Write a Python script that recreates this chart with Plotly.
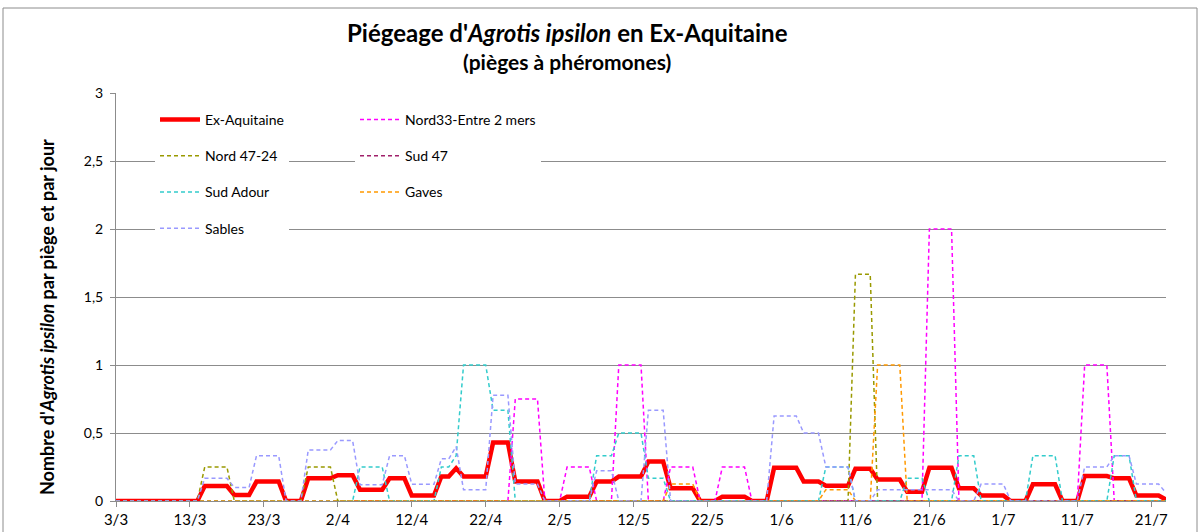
import pandas as pd
import plotly.graph_objects as go

# daily dates, 3/3 -> 23/7
dates = pd.date_range("2017-03-03", "2017-07-23", freq="D")

ex_aquitaine = [
    0, 0, 0, 0, 0, 0, 0, 0, 0, 0,
    0, 0, 0.11, 0.11, 0.11, 0.11, 0.044, 0.044, 0.044, 0.143,
    0.143, 0.143, 0.143, 0, 0, 0, 0.167, 0.167, 0.167, 0.167,
    0.19, 0.19, 0.19, 0.083, 0.083, 0.083, 0.083, 0.167, 0.167, 0.167,
    0.04, 0.04, 0.04, 0.04, 0.18, 0.18, 0.24, 0.18, 0.18, 0.18,
    0.18, 0.43, 0.43, 0.43, 0.143, 0.143, 0.143, 0.143, 0, 0,
    0, 0.032, 0.032, 0.032, 0.032, 0.143, 0.143, 0.143, 0.18, 0.18,
    0.18, 0.18, 0.29, 0.29, 0.29, 0.094, 0.094, 0.094, 0.094, 0,
    0, 0, 0.032, 0.032, 0.032, 0.032, 0, 0, 0, 0.245,
    0.245, 0.245, 0.245, 0.143, 0.143, 0.143, 0.113, 0.113, 0.113, 0.113,
    0.238, 0.238, 0.238, 0.158, 0.158, 0.158, 0.158, 0.068, 0.068, 0.068,
    0.245, 0.245, 0.245, 0.245, 0.093, 0.093, 0.093, 0.04, 0.04, 0.04,
    0.04, 0, 0, 0, 0.123, 0.123, 0.123, 0.123, 0, 0,
    0, 0.184, 0.184, 0.184, 0.184, 0.167, 0.167, 0.167, 0.04, 0.04,
    0.04, 0.04, 0.01,
]

nord33 = [
    0, 0, 0, 0, 0, 0, 0, 0, 0, 0,
    0, 0, 0, 0, 0, 0, 0, 0, 0, 0,
    0, 0, 0, 0, 0, 0, 0, 0, 0, 0,
    0, 0, 0, 0, 0, 0, 0, 0, 0, 0,
    0, 0, 0, 0, 0, 0, 0, 0, 0, 0,
    0, 0, 0, 0, 0.75, 0.75, 0.75, 0.75, 0, 0,
    0, 0.25, 0.25, 0.25, 0.25, 0, 0, 0, 1, 1,
    1, 1, 0, 0, 0, 0.25, 0.25, 0.25, 0.25, 0,
    0, 0, 0.25, 0.25, 0.25, 0.25, 0, 0, 0, 0,
    0, 0, 0, 0, 0, 0, 0, 0, 0, 0,
    0, 0, 0, 0, 0, 0, 0, 0, 0, 0,
    2, 2, 2, 2, 0, 0, 0, 0, 0, 0,
    0, 0, 0, 0, 0, 0, 0, 0, 0, 0,
    0, 1, 1, 1, 1, 0, 0, 0, 0, 0,
    0, 0, 0,
]

nord47_24 = [
    0, 0, 0, 0, 0, 0, 0, 0, 0, 0,
    0, 0, 0.25, 0.25, 0.25, 0.25, 0, 0, 0, 0,
    0, 0, 0, 0, 0, 0, 0.25, 0.25, 0.25, 0.25,
    0, 0, 0, 0, 0, 0, 0, 0, 0, 0,
    0, 0, 0, 0, 0, 0, 0, 0, 0, 0,
    0, 0, 0, 0, 0, 0, 0, 0, 0, 0,
    0, 0, 0, 0, 0, 0, 0, 0, 0, 0,
    0, 0, 0, 0, 0, 0, 0, 0, 0, 0,
    0, 0, 0, 0, 0, 0, 0, 0, 0, 0,
    0, 0, 0, 0, 0, 0, 0, 0, 0, 0,
    1.667, 1.667, 1.667, 0, 0, 0, 0, 0, 0, 0,
    0, 0, 0, 0, 0, 0, 0, 0, 0, 0,
    0, 0, 0, 0, 0, 0, 0, 0, 0, 0,
    0, 0, 0, 0, 0, 0, 0, 0, 0, 0,
    0, 0, 0,
]

sud47 = [
    0, 0, 0, 0, 0, 0, 0, 0, 0, 0,
    0, 0, 0, 0, 0, 0, 0, 0, 0, 0,
    0, 0, 0, 0, 0, 0, 0, 0, 0, 0,
    0, 0, 0, 0, 0, 0, 0, 0, 0, 0,
    0, 0, 0, 0, 0, 0, 0, 0, 0, 0,
    0, 0, 0, 0, 0, 0, 0, 0, 0, 0,
    0, 0, 0, 0, 0, 0, 0, 0, 0, 0,
    0, 0, 0, 0, 0, 0, 0, 0, 0, 0,
    0, 0, 0, 0, 0, 0, 0, 0, 0, 0,
    0, 0, 0, 0, 0, 0, 0, 0, 0, 0,
    0, 0, 0, 0, 0, 0, 0, 0, 0, 0,
    0, 0, 0, 0, 0, 0, 0, 0, 0, 0,
    0, 0, 0, 0, 0, 0, 0, 0, 0, 0,
    0, 0, 0, 0, 0, 0, 0, 0, 0, 0,
    0, 0, 0,
]

sud_adour = [
    0, 0, 0, 0, 0, 0, 0, 0, 0, 0,
    0, 0, 0, 0, 0, 0, 0, 0, 0, 0,
    0, 0, 0, 0, 0, 0, 0, 0, 0, 0,
    0, 0, 0, 0.25, 0.25, 0.25, 0.25, 0, 0, 0,
    0, 0, 0, 0, 0.25, 0.25, 0.333, 1, 1, 1,
    1, 0.667, 0.667, 0.667, 0, 0, 0, 0, 0, 0,
    0, 0, 0, 0, 0, 0.333, 0.333, 0.333, 0.5, 0.5,
    0.5, 0.5, 0.167, 0.167, 0.167, 0, 0, 0, 0, 0,
    0, 0, 0, 0, 0, 0, 0, 0, 0, 0,
    0, 0, 0, 0, 0, 0, 0.25, 0.25, 0.25, 0.25,
    0, 0, 0, 0, 0, 0, 0, 0.167, 0.167, 0.167,
    0, 0, 0, 0, 0.333, 0.333, 0.333, 0, 0, 0,
    0, 0, 0, 0, 0.333, 0.333, 0.333, 0.333, 0, 0,
    0, 0, 0, 0, 0, 0.333, 0.333, 0.333, 0, 0,
    0, 0, 0,
]

gaves = [
    0, 0, 0, 0, 0, 0, 0, 0, 0, 0,
    0, 0, 0, 0, 0, 0, 0, 0, 0, 0,
    0, 0, 0, 0, 0, 0, 0, 0, 0, 0,
    0, 0, 0, 0, 0, 0, 0, 0, 0, 0,
    0, 0, 0, 0, 0, 0, 0, 0, 0, 0,
    0, 0, 0, 0, 0, 0, 0, 0, 0, 0,
    0, 0, 0, 0, 0, 0, 0, 0, 0, 0,
    0, 0, 0, 0, 0, 0.125, 0.125, 0.125, 0.125, 0,
    0, 0, 0, 0, 0, 0, 0, 0, 0, 0,
    0, 0, 0, 0, 0, 0, 0.083, 0.083, 0.083, 0.083,
    0, 0, 0, 1, 1, 1, 1, 0, 0, 0,
    0, 0, 0, 0, 0, 0, 0, 0, 0, 0,
    0, 0, 0, 0, 0, 0, 0, 0, 0, 0,
    0, 0, 0, 0, 0, 0, 0, 0, 0, 0,
    0, 0, 0,
]

sables = [
    0, 0, 0, 0, 0, 0, 0, 0, 0, 0,
    0, 0, 0.167, 0.167, 0.167, 0.167, 0.1, 0.1, 0.1, 0.333,
    0.333, 0.333, 0.333, 0, 0, 0, 0.375, 0.375, 0.375, 0.375,
    0.444, 0.444, 0.444, 0.12, 0.12, 0.12, 0.12, 0.333, 0.333, 0.333,
    0.123, 0.123, 0.123, 0.123, 0.31, 0.31, 0.4, 0.083, 0.083, 0.083,
    0.083, 0.778, 0.778, 0.778, 0.125, 0.125, 0.125, 0.125, 0, 0,
    0, 0, 0, 0, 0, 0.222, 0.222, 0.222, 0, 0,
    0, 0, 0.667, 0.667, 0.667, 0, 0, 0, 0, 0,
    0, 0, 0, 0, 0, 0, 0, 0, 0, 0.625,
    0.625, 0.625, 0.625, 0.5, 0.5, 0.5, 0.25, 0.25, 0.25, 0.25,
    0, 0, 0, 0.083, 0.083, 0.083, 0.083, 0.083, 0.083, 0.083,
    0.083, 0.083, 0.083, 0.083, 0, 0, 0, 0.125, 0.125, 0.125,
    0.125, 0, 0, 0, 0, 0, 0, 0, 0, 0,
    0, 0.25, 0.25, 0.25, 0.25, 0.333, 0.333, 0.333, 0.125, 0.125,
    0.125, 0.125, 0.06,
]

y_tickvals = [0, 0.5, 1, 1.5, 2, 2.5, 3]

FONT = "Lato"
GRID = "#8c8c8c"
DASH = "4px,3px"

fig = go.Figure()

series = [
    ("Ex-Aquitaine", ex_aquitaine, "#ff0000", 4.5, "solid", "legend"),
    ("Nord33-Entre 2 mers", nord33, "#ff00ff", 1.5, DASH, "legend2"),
    ("Nord 47-24", nord47_24, "#999900", 1.5, DASH, "legend"),
    ("Sud 47", sud47, "#a0206a", 1.5, DASH, "legend2"),
    ("Sud Adour", sud_adour, "#33cccc", 1.5, DASH, "legend"),
    ("Gaves", gaves, "#ff9900", 1.5, DASH, "legend2"),
    ("Sables", sables, "#9999ff", 1.5, DASH, "legend"),
]

for name, vals, col, w, dash, lg in series:
    fig.add_trace(go.Scatter(
        x=dates, y=vals, name=name, mode="lines",
        line=dict(color=col, width=w, dash=dash),
        legend=lg, legendgroup=name,
    ))

L, R, T, B = 116, 34, 93, 31
W, H = 1200, 532
pw = W - L - R
ph = H - T - B

def px_x(x):
    return (x - L) / pw

def px_y(y):
    return (H - B - y) / ph

fig.update_layout(
    width=W, height=H,
    margin=dict(l=L, r=R, t=T, b=B, pad=0, autoexpand=False),
    paper_bgcolor="white", plot_bgcolor="white",
    separators=", ",
    font=dict(family=FONT, size=14, color="#000000"),
    showlegend=True,
    legend=dict(
        x=px_x(155), y=px_y(104), xanchor="left", yanchor="top",
        bgcolor="white", borderwidth=0, itemwidth=40,
        tracegroupgap=15, font=dict(size=14, family=FONT),
        itemclick=False, itemdoubleclick=False,
    ),
    legend2=dict(
        x=px_x(355), y=px_y(104), xanchor="left", yanchor="top",
        bgcolor="white", borderwidth=0, itemwidth=40,
        tracegroupgap=15, font=dict(size=14, family=FONT),
        itemclick=False, itemdoubleclick=False,
    ),
    xaxis=dict(
        type="date", automargin=False,
        range=[dates[0], dates[-1]],
        tick0=dates[0], dtick=10 * 86400000,
        tickformat="%-d/%-m",
        showgrid=False, zeroline=False,
        showline=True, linecolor=GRID, linewidth=1,
        ticks="outside", ticklen=5, tickcolor=GRID,
        tickfont=dict(size=15, family=FONT),
    ),
    yaxis=dict(
        automargin=False,
        range=[0, 3], tickvals=y_tickvals,
        showgrid=True, gridcolor=GRID, gridwidth=1,
        zeroline=False,
        showline=True, linecolor=GRID, linewidth=1,
        ticks="outside", ticklen=5, tickcolor=GRID,
        tickfont=dict(size=14, family=FONT),
        ticklabelstandoff=4,
    ),
    shapes=[dict(
        type="rect", xref="paper", yref="paper",
        x0=px_x(3), x1=px_x(1197), y0=px_y(545), y1=px_y(8),
        line=dict(color="#8c8c8c", width=1), fillcolor="rgba(0,0,0,0)",
        layer="below",
    )],
    annotations=[
        dict(text="<b>Piégeage d'<i>Agrotis ipsilon</i> en Ex-Aquitaine</b>",
             x=px_x(567), y=px_y(32), xref="paper", yref="paper",
             xanchor="center", yanchor="middle", showarrow=False,
             font=dict(size=24, family=FONT)),
        dict(text="<b>(pièges à phéromones)</b>",
             x=px_x(567), y=px_y(61), xref="paper", yref="paper",
             xanchor="center", yanchor="middle", showarrow=False,
             font=dict(size=21, family=FONT)),
        dict(text="<b>Nombre d'<i>Agrotis ipsilon</i> par piège et par jour</b>",
             x=px_x(47), y=px_y(317), xref="paper", yref="paper",
             xanchor="center", yanchor="middle", showarrow=False,
             textangle=-90, font=dict(size=18, family=FONT)),
    ],
)

fig.write_html(
    "out.html",
    config={"displayModeBar": False},
    post_script="document.body.style.margin='0';document.body.style.padding='0';",
)
